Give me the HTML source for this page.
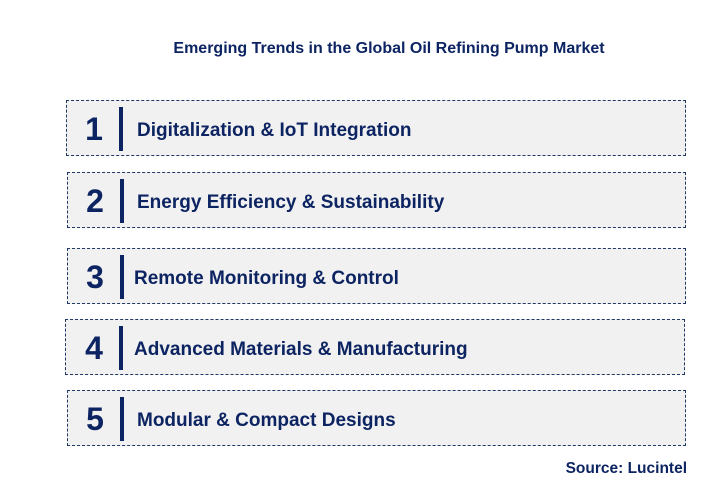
<!DOCTYPE html>
<html><head><meta charset="utf-8"><style>
body{margin:0;width:712px;height:501px;background:#fff;position:relative;font-family:"Liberation Sans",Arial,sans-serif;overflow:hidden}
.t{position:absolute;left:0;width:778px;text-align:center;top:40px;font-size:16px;font-weight:bold;color:#0d2462}
.box{position:absolute;background:#f1f1f1;border:1px dashed #1f3864;box-sizing:border-box;height:56px}
.num{position:absolute;left:16px;width:22px;text-align:center;top:10px;font-size:32px;font-weight:bold;color:#0d2462;line-height:36px}
.bar{position:absolute;left:52px;top:6px;width:4px;height:44px;background:#0d2462}
.lbl{position:absolute;top:19px;font-size:19px;font-weight:bold;color:#0d2462;line-height:22px;white-space:nowrap}
.src{position:absolute;right:25px;top:460px;font-size:15.5px;font-weight:bold;color:#0d2462}
</style></head><body>
<div class="t">Emerging Trends in the Global Oil Refining Pump Market</div>
<div class="box" style="left:66px;top:100px;width:620px"><div class="num">1</div><div class="bar"></div><div class="lbl" style="left:70px">Digitalization &amp; IoT Integration</div></div>
<div class="box" style="left:67px;top:172px;width:619px"><div class="num">2</div><div class="bar"></div><div class="lbl" style="left:69px">Energy Efficiency &amp; Sustainability</div></div>
<div class="box" style="left:67px;top:248px;width:619px"><div class="num">3</div><div class="bar"></div><div class="lbl" style="left:66px">Remote Monitoring &amp; Control</div></div>
<div class="box" style="left:65px;top:319px;width:620px"><div class="num" style="left:17px">4</div><div class="bar" style="left:53px"></div><div class="lbl" style="left:68px">Advanced Materials &amp; Manufacturing</div></div>
<div class="box" style="left:67px;top:390px;width:619px"><div class="num">5</div><div class="bar"></div><div class="lbl" style="left:69px">Modular &amp; Compact Designs</div></div>
<div class="src">Source: Lucintel</div>
</body></html>
